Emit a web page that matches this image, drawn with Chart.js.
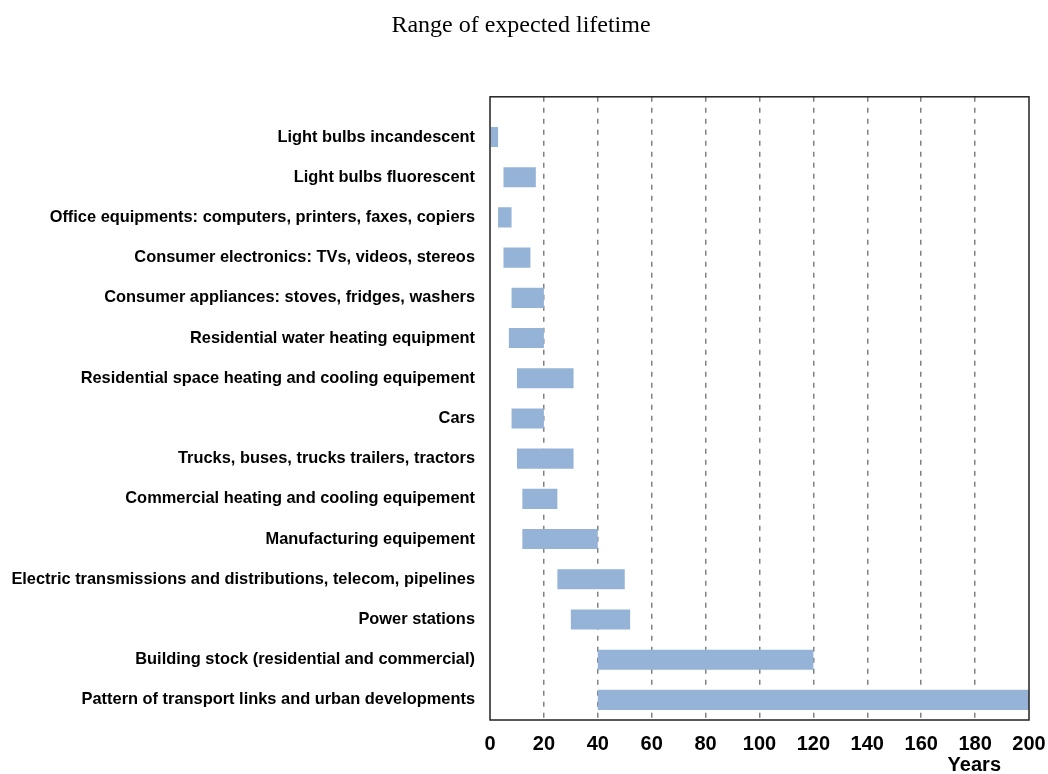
<!DOCTYPE html>
<html>
<head>
<meta charset="utf-8">
<script src="https://cdn.jsdelivr.net/npm/chart.js@4/dist/chart.umd.min.js"></script>
<style>
html,body{margin:0;padding:0;background:#fff;}
#wrap{width:1048px;height:774px;position:relative;}
</style>
</head>
<body>
<div id="wrap"><canvas id="c" width="1048" height="774"></canvas></div>
<script>
const categories = [
  "Light bulbs incandescent",
  "Light bulbs fluorescent",
  "Office equipments: computers, printers, faxes, copiers",
  "Consumer electronics: TVs, videos, stereos",
  "Consumer appliances: stoves, fridges, washers",
  "Residential water heating equipment",
  "Residential space heating and cooling equipement",
  "Cars",
  "Trucks, buses, trucks trailers, tractors",
  "Commercial heating and cooling equipement",
  "Manufacturing equipement",
  "Electric transmissions and distributions, telecom, pipelines",
  "Power stations",
  "Building stock (residential and commercial)",
  "Pattern of transport links and urban developments"
];
const minLifetime = [0, 5, 3, 5, 8, 7, 10, 8, 10, 12, 12, 25, 30, 40, 40];
const maxLifetime = [3, 17, 8, 15, 20, 20, 31, 20, 31, 25, 40, 50, 52, 120, 200];
const xTicks = [0, 20, 40, 60, 80, 100, 120, 140, 160, 180, 200];
const chartTitle = "Range of expected lifetime";
const xAxisTitle = "Years";

const ranges = categories.map((c, i) => [minLifetime[i], maxLifetime[i]]);

const framePlugin = {
  id: 'frame',
  afterDraw(chart) {
    const {ctx, chartArea: a} = chart;
    ctx.save();
    ctx.strokeStyle = '#222';
    ctx.lineWidth = 1.5;
    ctx.strokeRect(a.left, a.top, a.right - a.left, a.bottom - a.top);
    ctx.fillStyle = '#000';
    ctx.font = 'bold 20px "Liberation Sans", Arial, sans-serif';
    ctx.textAlign = 'right';
    ctx.textBaseline = 'middle';
    ctx.fillText(xAxisTitle, 1001, 765);
    ctx.restore();
  }
};

new Chart(document.getElementById('c'), {
  type: 'bar',
  data: {
    labels: categories,
    datasets: [{
      data: ranges,
      backgroundColor: '#95b3d7',
      borderWidth: 0,
      borderSkipped: false,
      barPercentage: 0.5,
      categoryPercentage: 1.0
    }]
  },
  options: {
    indexAxis: 'y',
    responsive: false,
    animation: false,
    layout: { padding: { left: 0, right: 6, top: 0, bottom: 0 } },
    plugins: {
      legend: { display: false },
      tooltip: { enabled: false },
      title: {
        display: true,
        text: chartTitle,
        color: '#000',
        font: { family: '"Liberation Serif", "Times New Roman", serif', size: 24, weight: 'normal' },
        padding: { top: 11, bottom: 57 }
      }
    },
    scales: {
      x: {
        min: 0, max: 200,
        afterBuildTicks(scale) { scale.ticks = xTicks.map(v => ({ value: v })); },
        afterFit(scale) { scale.height = 54; scale.paddingRight = 19; scale.paddingLeft = 0; },
        grid: {
          drawTicks: false,
          color(ctx) { return (ctx.tick && (ctx.tick.value === 0 || ctx.tick.value === 200)) ? 'rgba(0,0,0,0)' : '#808080'; },
          lineWidth: 1.5
        },
        border: { display: false, dash: [5, 6] },
        ticks: {
          color: '#000',
          padding: 12,
          font: { family: '"Liberation Sans", Arial, sans-serif', size: 20, weight: 'bold' },
          maxRotation: 0
        }
      },
      y: {
        afterBuildTicks(scale) {
          // leave half a category of empty space above the first bar
          if (typeof scale._startValue === 'number') {
            scale._startValue -= 0.5;
            scale._valueRange += 0.5;
          }
        },
        afterFit(scale) { scale.width = 490; scale.paddingTop = 0; scale.paddingBottom = 0; },
        grid: { display: false, drawTicks: false },
        border: { display: false },
        ticks: {
          color: '#000',
          padding: 15,
          autoSkip: false,
          font: { family: '"Liberation Sans", Arial, sans-serif', size: 16.4, weight: 'bold' }
        }
      }
    }
  },
  plugins: [framePlugin]
});
</script>
</body>
</html>
